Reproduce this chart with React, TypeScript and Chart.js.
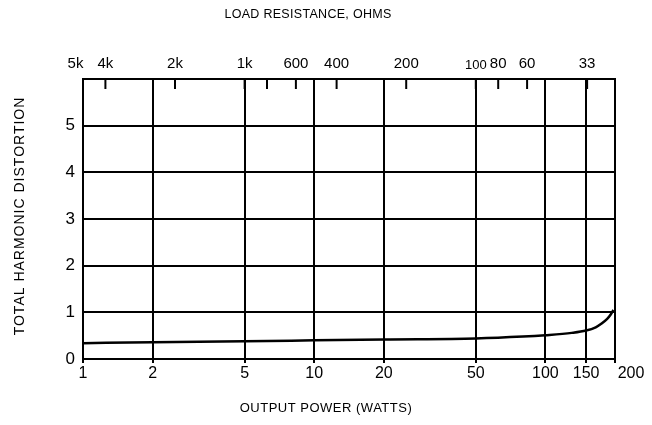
import React, { useEffect, useRef } from "react";
import { Chart, registerables } from "chart.js";

Chart.register(...registerables);

// Data
const powerWatts = [1, 2, 5, 10, 20, 50, 80, 100, 130, 150, 165, 175, 185, 192, 197];
const thdPercent = [0.34, 0.36, 0.38, 0.4, 0.42, 0.44, 0.48, 0.51, 0.56, 0.61, 0.68, 0.76, 0.86, 0.96, 1.05];

const powerMin = 1;
const powerMax = 200;
const powerTicks = [1, 2, 5, 10, 20, 50, 100, 150, 200];
const powerTickLabels = ["1", "2", "5", "10", "20", "50", "100", "150", "200"];

const resistanceOhms = [5000, 4000, 2000, 1000, 800, 600, 400, 200, 100, 80, 60, 33];
const resistanceLabels = ["5k", "4k", "2k", "1k", "", "600", "400", "200", "100", "80", "60", "33"];
const powerResistanceConstant = 5000; // P = K / R

const yTicks = [0, 1, 2, 3, 4, 5, 6];
const yTickLabels = ["0", "1", "2", "3", "4", "5", ""];

const TITLE_TOP = "LOAD RESISTANCE, OHMS";
const TITLE_BOTTOM = "OUTPUT POWER (WATTS)";
const TITLE_Y = "TOTAL HARMONIC DISTORTION";

const FONT = "'Liberation Sans', Arial, sans-serif";
const EM = "\u2003";

const decorPlugin = {
  id: "decor",
  afterDraw(chart: any) {
    const ctx = chart.ctx;
    const area = chart.chartArea;
    const top = chart.scales.x2;
    ctx.save();
    ctx.strokeStyle = "#000";
    ctx.lineWidth = 2;
    top.ticks.forEach((t: any) => {
      const px = top.getPixelForValue(t.value);
      if (px <= area.left + 2 || px >= area.right - 2) return;
      ctx.beginPath();
      ctx.moveTo(px, area.top);
      ctx.lineTo(px, area.top + 10);
      ctx.stroke();
    });
    ctx.fillStyle = "#000";
    ctx.textAlign = "center";
    ctx.textBaseline = "middle";
    ctx.font = `12.5px ${FONT}`;
    (ctx as any).letterSpacing = "0.3px";
    ctx.fillText(TITLE_TOP, 308, 15);
    ctx.font = `13px ${FONT}`;
    (ctx as any).letterSpacing = "0.5px";
    ctx.fillText(TITLE_BOTTOM, 326, 408);
    ctx.font = `14px ${FONT}`;
    (ctx as any).letterSpacing = "1px";
    ctx.translate(20, 216);
    ctx.rotate(-Math.PI / 2);
    ctx.fillText(TITLE_Y, 0, 0);
    ctx.restore();
  },
};

const tickFont = { family: FONT, size: 16 };
const topFont = (c: any) => ({
  family: FONT,
  size: c.tick && String(c.tick.label).trim().length > 2 && c.tick.value > 40 ? 13 : 15,
});

export default function App() {
  const ref = useRef<HTMLCanvasElement>(null);
  useEffect(() => {
    if (!ref.current) return;
    const chart = new Chart(ref.current, {
      type: "line",
      data: {
        datasets: [
          {
            data: powerWatts.map((p, i) => ({ x: p, y: thdPercent[i] })),
            borderColor: "#000",
            borderWidth: 2.5,
            pointRadius: 0,
            cubicInterpolationMode: "monotone",
            fill: false,
          },
        ],
      },
      options: {
        animation: false,
        responsive: true,
        maintainAspectRatio: false,
        layout: { padding: { left: 0, right: 37, top: 0, bottom: 0 } },
        plugins: { legend: { display: false }, tooltip: { enabled: false } },
        scales: {
          x: {
            type: "logarithmic",
            position: "bottom",
            min: powerMin,
            max: powerMax,
            afterBuildTicks: (scale: any) => {
              scale.ticks = powerTicks.map((v) => ({ value: v }));
            },
            afterFit: (scale: any) => {
              scale.height = 66;
            },
            ticks: {
              autoSkip: false,
              maxRotation: 0,
              color: "#000",
              padding: 1,
              font: tickFont,
              // the edge label sits to the right of the frame, as in the reference
              callback: (v: any, i: number) => (v === powerMax ? EM + EM + powerTickLabels[i] : powerTickLabels[i]),
            },
            grid: { color: "#000", lineWidth: 2, tickLength: 4, drawTicks: true },
            border: { color: "#000", width: 2 },
          },
          x2: {
            type: "logarithmic",
            position: "top",
            min: powerMin,
            max: powerMax,
            afterBuildTicks: (scale: any) => {
              scale.ticks = resistanceOhms.map((r) => ({ value: powerResistanceConstant / r }));
            },
            afterFit: (scale: any) => {
              scale.height = 79;
            },
            ticks: {
              autoSkip: false,
              maxRotation: 0,
              color: "#000",
              padding: 6,
              font: topFont,
              // the edge label sits to the left of the frame, as in the reference
              callback: (v: any, i: number) => (v === powerMin ? resistanceLabels[i] + EM : resistanceLabels[i]),
            },
            grid: { drawOnChartArea: false, drawTicks: false },
            border: { color: "#000", width: 2 },
          },
          y: {
            type: "linear",
            min: 0,
            max: 6,
            afterBuildTicks: (scale: any) => {
              scale.ticks = yTicks.map((v) => ({ value: v }));
            },
            afterFit: (scale: any) => {
              scale.width = 83;
            },
            ticks: {
              color: "#000",
              padding: 8,
              font: { family: FONT, size: 17 },
              callback: (_v: any, i: number) => yTickLabels[i],
            },
            grid: { color: "#000", lineWidth: 2, drawTicks: false },
            border: { color: "#000", width: 2 },
          },
        },
      } as any,
      plugins: [decorPlugin],
    });
    return () => chart.destroy();
  }, []);
  return (
    <div style={{ position: "fixed", left: 0, top: 0, width: 652, height: 425, background: "#fff" }}>
      <canvas ref={ref} />
    </div>
  );
}
